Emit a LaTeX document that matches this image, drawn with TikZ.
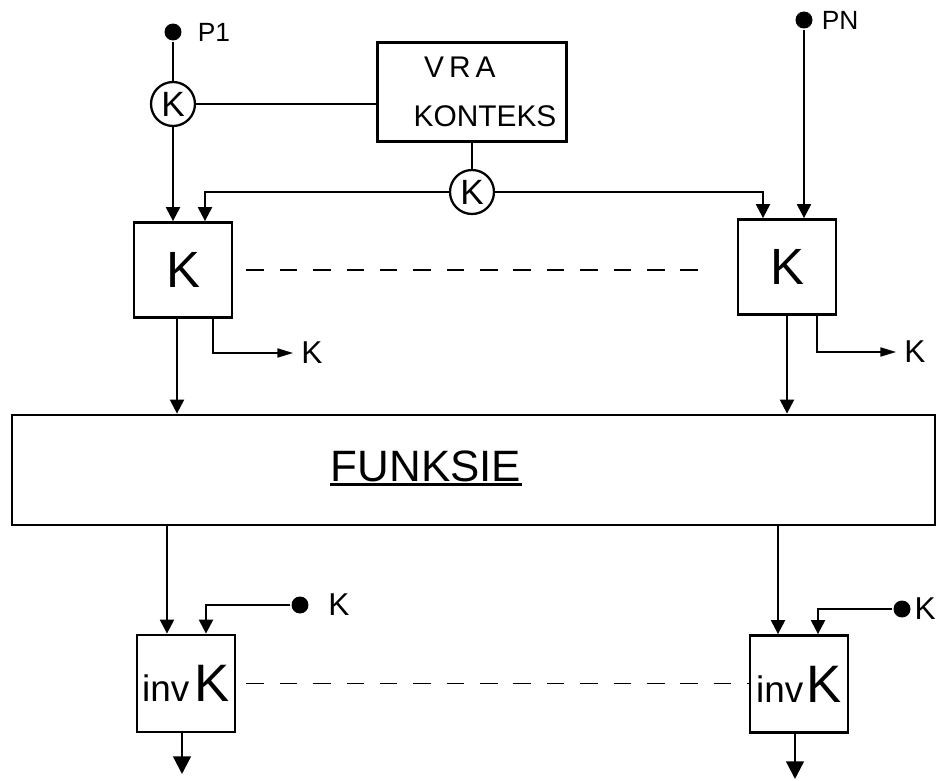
\documentclass[tikz,border=0pt]{standalone}
\usepackage{fontspec}
\setmainfont{Liberation Sans}
\usetikzlibrary{arrows.meta,positioning}

\begin{document}
\begin{tikzpicture}[
    x=0.02cm, y=-0.02cm, >={Triangle[width=8pt,length=8pt]}, line width=1.3pt,
    k_box/.style={rectangle, draw, line width=1.6pt, minimum width=1.96cm, minimum height=1.9cm, inner sep=0pt, font=\fontsize{29}{29}\selectfont},
    inv_box/.style={k_box, minimum height=1.94cm, font=\fontsize{30}{30}\selectfont},
    ctx_box/.style={rectangle, draw, line width=1.6pt, minimum width=3.78cm, minimum height=1.98cm},
    ctx_txt/.style={align=left, inner sep=0pt, font=\fontsize{17}{28}\selectfont},
    func_box/.style={rectangle, draw, line width=1.6pt, minimum width=18.46cm, minimum height=2.2cm},
    key_node/.style={circle, draw, line width=1.3pt, minimum size=0.88cm, inner sep=0pt, font=\fontsize{20}{20}\selectfont},
    pin_dot/.style={circle, fill, minimum size=0.34cm, inner sep=0pt},
    pin_lbl/.style={font=\fontsize{15}{15}\selectfont, inner sep=1pt},
    key_lbl/.style={font=\fontsize{18}{18}\selectfont, inner sep=1pt},
    side_out/.style={-{Triangle[width=5pt,length=9pt]}, shorten >=3pt},
    end_out/.style={-{Triangle[width=10pt,length=10pt]}},
    dash_lnk/.style={line width=1pt, dash pattern=on 10pt off 9pt}
]
    \path[use as bounding box, fill=white] (0,0) rectangle (938,781);

    % Inputs and key circles
    \node[pin_dot] (P1) at (173,32) {};
    \node[pin_lbl, right=7pt of P1] (P1_lbl) {P1};
    \node[pin_dot] (PN) at (804,20) {};
    \node[pin_lbl, right=3pt of PN] (PN_lbl) {PN};
    \node[key_node] (K1) at (173,104) {K};
    \node[ctx_box] (VRA) at (472,92) {};
    \node[ctx_txt] (VRA_txt) at ([xshift=0.26cm]VRA.center) {\hspace*{6pt}V\,R\,A\\KONTEKS};
    \node[key_node] (K2) at (472,192) {K};

    % Key blocks
    \node[k_box] (KL) at (183,270) {K};
    \node[k_box] (KR) at (787,267) {K};
    \node[key_lbl] (KL_out) at (312,353) {K};
    \node[key_lbl] (KR_out) at (915,352) {K};

    % Function block
    \node[func_box] (FB) at (473.5,470) {};
    \node[inner sep=0pt, anchor=base, font=\fontsize{25}{25}\selectfont] (FB_txt) at (426,481) {FUNKSIE};
    \draw[line width=1.5pt] ([yshift=-2pt]FB_txt.base west) -- ([yshift=-2pt]FB_txt.base east);

    % Inverse blocks
    \node[inv_box] (IL) at (186,683.5) {{\fontsize{21}{21}\selectfont inv}\hspace{3pt}K};
    \node[inv_box] (IR) at (799,684) {{\fontsize{21}{21}\selectfont inv}\hspace{2pt}K};
    \node[pin_dot] (KdL) at (300,605) {};
    \node[key_lbl, right=9pt of KdL] (KdL_lbl) {K};
    \node[pin_dot] (KdR) at (902,609) {};
    \node[key_lbl, inner sep=0pt, right=1pt of KdR] (KdR_lbl) {K};
    \coordinate (IL_end) at (182,774);
    \coordinate (IR_end) at (795,779);

    % Connections at the top
    \draw (P1) -- (K1);
    \draw[->] (K1) -- (K1 |- KL.north);
    \draw (K1) -- (K1 -| VRA.west);
    \draw (VRA) -- (K2);
    \draw[->] (K2) -| ([xshift=0.44cm]KL.north);
    \draw[->] (K2) -| ([xshift=-0.48cm]KR.north);
    \draw[->] (PN) -- (PN |- KR.north);

    % Key block outputs
    \draw[->] ([xshift=-0.12cm]KL.south) -- ([xshift=-0.12cm]KL.south |- FB.north);
    \draw[side_out] ([xshift=0.6cm]KL.south) |- (KL_out.west);
    \draw[->] (KR.south) -- (KR.south |- FB.north);
    \draw[side_out] ([xshift=0.6cm]KR.south) |- (KR_out.west);
    \draw[dash_lnk, shorten <=0.26cm, shorten >=0.64cm] (KL.east) -- (KL.east -| KR.west);

    % Function outputs to inverse blocks
    \draw[->] ([xshift=-0.38cm]IL.north |- FB.south) -- ([xshift=-0.38cm]IL.north);
    \draw[->] (KdL) -| ([xshift=0.4cm]IL.north);
    \draw[->] ([xshift=-0.42cm]IR.north |- FB.south) -- ([xshift=-0.42cm]IR.north);
    \draw[->] (KdR) -| ([xshift=0.38cm]IR.north);
    \draw[dash_lnk, shorten <=0.2cm] (IL.east) -- (IL.east -| IR.west);
    \draw[end_out] (IL.south -| IL_end) -- (IL_end);
    \draw[end_out] (IR.south -| IR_end) -- (IR_end);
\end{tikzpicture}
\end{document}
